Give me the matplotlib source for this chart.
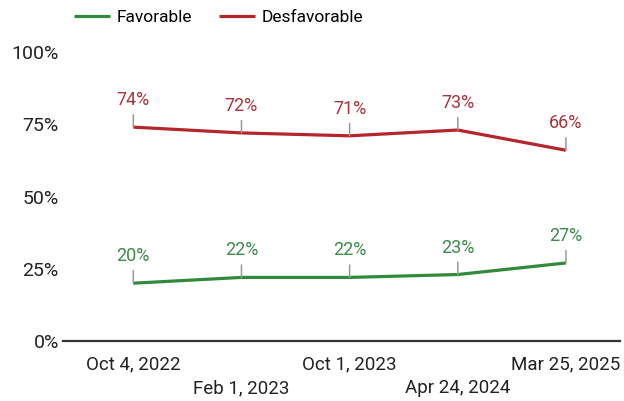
import matplotlib
matplotlib.use('Agg')
import matplotlib.pyplot as plt
from matplotlib.ticker import PercentFormatter

# Datos
fechas = ["Oct 4, 2022", "Feb 1, 2023", "Oct 1, 2023", "Apr 24, 2024", "Mar 25, 2025"]
favorable = [20, 22, 22, 23, 27]
desfavorable = [74, 72, 71, 73, 66]

verde = "#2f8a3b"
rojo = "#b3262b"
verde_txt = "#3d8a4a"
rojo_txt = "#a8343c"

plt.rcParams['font.family'] = ['Roboto', 'DejaVu Sans']

fig = plt.figure(figsize=(6.24, 4.01), dpi=100)
ax = fig.add_axes([63/624, 1-341/401, (620-63)/624, (341-52)/401])

x = list(range(len(fechas)))
ax.plot(x, favorable, color=verde, lw=2.3, label="Favorable", solid_capstyle='butt')
ax.plot(x, desfavorable, color=rojo, lw=2.3, label="Desfavorable", solid_capstyle='butt')

# Etiquetas con linea guia
for serie, col in ((favorable, verde_txt), (desfavorable, rojo_txt)):
    for i, v in enumerate(serie):
        ax.annotate(f"{v}%", (i, v), xytext=(0, 27), textcoords='offset pixels',
                    ha='center', va='center', fontsize=13, color=col,
                    arrowprops=dict(arrowstyle='-', color='#999999', lw=1.1,
                                    shrinkA=2, shrinkB=0))

ax.set_ylim(0, 100)
ax.set_xlim(-0.65, 4.5)
ax.set_yticks([0, 25, 50, 75, 100])
ax.yaxis.set_major_formatter(PercentFormatter(decimals=0))
ax.set_xticks(x)
ax.set_xticklabels([f if i % 2 == 0 else "\n" + f for i, f in enumerate(fechas)])
ax.tick_params(length=0, colors='#222222')
ax.tick_params(axis='y', pad=3, labelsize=14)
ax.tick_params(axis='x', pad=10, labelsize=13.5)
for lab in ax.get_xticklabels():
    lab.set_linespacing(1.45)
for s in ('top', 'right', 'left'):
    ax.spines[s].set_visible(False)
ax.spines['bottom'].set_color('#333333')
ax.spines['bottom'].set_linewidth(1.6)

fig.legend(loc='upper left', bbox_to_anchor=(58/624, 1.015), ncol=2, frameon=False,
           fontsize=12.5, handlelength=2.1, columnspacing=1.5, handletextpad=0.4)

fig.savefig("out.png", dpi=100)
